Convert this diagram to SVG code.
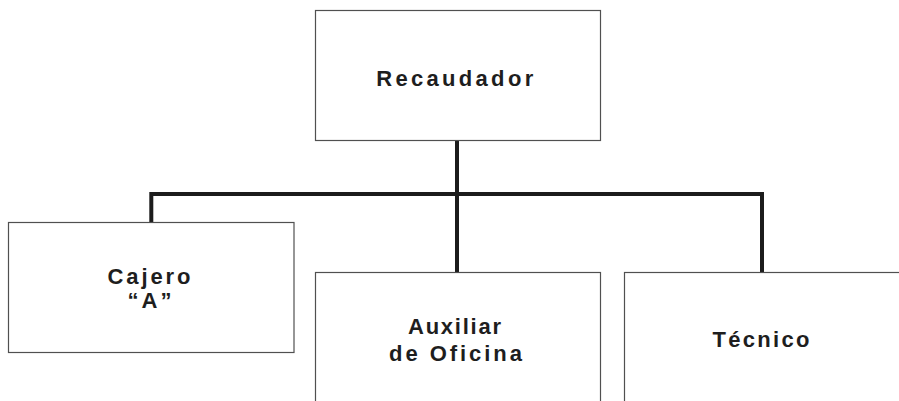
<svg xmlns="http://www.w3.org/2000/svg" width="899" height="401" viewBox="0 0 899 401">
  <style>
    .box { fill: #ffffff; stroke: #505050; stroke-width: 1.2; }
    .conn { fill: none; stroke: #1c1c1c; stroke-width: 4; stroke-linejoin: miter; stroke-linecap: butt; }
    .lbl { font-family: "Liberation Sans", Arial, sans-serif; font-weight: bold; font-size: 22px; fill: #1e1e1e; text-anchor: middle; }
  </style>
  <rect x="0" y="0" width="899" height="401" fill="#ffffff"/>
  <g id="connectors">
    <path class="conn" d="M151.3,222.5 V194 H762 V272.5"/>
    <path class="conn" d="M457,140.5 V272.5"/>
  </g>
  <g id="node-recaudador">
    <rect class="box" x="315.5" y="10.5" width="285" height="130"/>
    <text class="lbl" x="454.7" y="86" textLength="157" lengthAdjust="spacing">Recaudador</text>
  </g>
  <g id="node-cajero">
    <rect class="box" x="8.5" y="222.5" width="285.5" height="130"/>
    <text class="lbl" x="149" y="283.5" textLength="83" lengthAdjust="spacing">Cajero</text>
    <text class="lbl" x="149.5" y="308" textLength="44" lengthAdjust="spacing">“A”</text>
  </g>
  <g id="node-auxiliar">
    <rect class="box" x="315.5" y="272.5" width="285" height="150"/>
    <text class="lbl" x="454.5" y="334" textLength="93" lengthAdjust="spacing">Auxiliar</text>
    <text class="lbl" x="455.5" y="360.5" textLength="133" lengthAdjust="spacing">de Oficina</text>
  </g>
  <g id="node-tecnico">
    <rect class="box" x="624.5" y="272.5" width="285" height="150"/>
    <text class="lbl" x="761" y="347" textLength="97" lengthAdjust="spacing">Técnico</text>
  </g>
</svg>
